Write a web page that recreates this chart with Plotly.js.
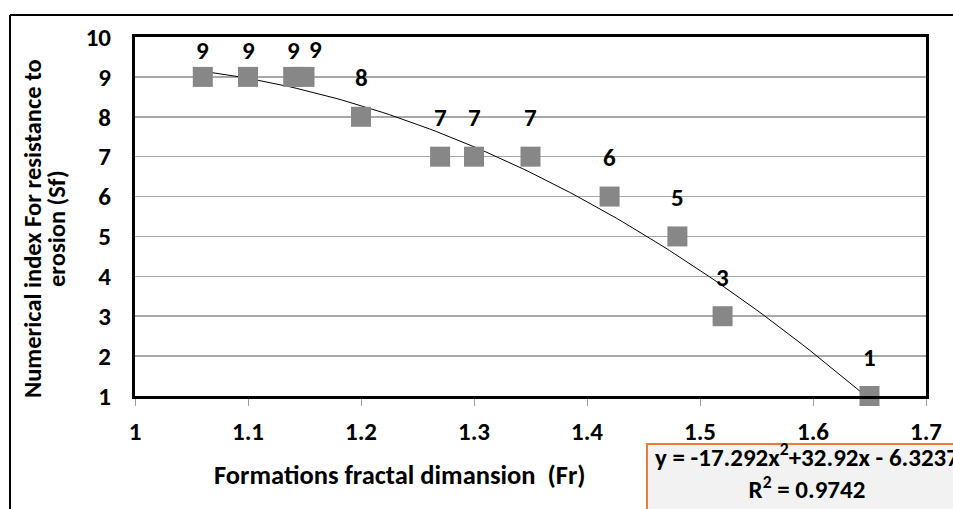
<!DOCTYPE html>
<html>
<head>
<meta charset="utf-8">
<script src="https://cdn.plot.ly/plotly-3.0.1.min.js"></script>
<style>
html,body{margin:0;padding:0;background:#fff;}
#chart{width:953px;height:509px;}
</style>
</head>
<body>
<div id="chart"></div>
<script>
// Data
const fractalDim = [1.06, 1.10, 1.14, 1.15, 1.20, 1.27, 1.30, 1.35, 1.42, 1.48, 1.52, 1.65];
const erosionIndex = [9, 9, 9, 9, 8, 7, 7, 7, 6, 5, 3, 1];
const pointLabels = ["9", "9", "9", "9", "8", "7", "7", "7", "6", "5", "3", "1"];
// Polynomial trendline coefficients shown in the chart (a2, a1, a0)
const trendCoef = [-17.292, 32.92, -6.3237];
const rSquared = "0.9742";
const xTicks = [1, 1.1, 1.2, 1.3, 1.4, 1.5, 1.6, 1.7];
const yTicks = [1, 2, 3, 4, 5, 6, 7, 8, 9, 10];

const FONT = "Carlito, Lato, 'Open Sans', sans-serif";

// trendline evaluated along the data range
const xMin = Math.min(...fractalDim), xMax = Math.max(...fractalDim);
const trendX = [], trendY = [];
for (let i = 0; i <= 100; i++) {
  const x = xMin + (xMax - xMin) * i / 100;
  trendX.push(x);
  trendY.push(trendCoef[0] * x * x + trendCoef[1] * x + trendCoef[2]);
}

const traces = [
  {
    x: trendX, y: trendY, type: "scatter", mode: "lines",
    line: {color: "#000", width: 1}, hoverinfo: "skip", showlegend: false, cliponaxis: false
  },
  {
    x: fractalDim, y: erosionIndex, type: "scatter", mode: "markers",
    marker: {symbol: "square", size: 20, color: "#878787"},
    showlegend: false, cliponaxis: false
  }
];

const W = 953, H = 509, L = 135, R = 27, T = 37, B = 113;
const pw = W - L - R, ph = H - T - B;
const px = p => (p - L) / pw;
const py = p => (H - B - p) / ph;
const yMax = 10, yMin = 1;
const unitPx = ph / (yMax - yMin);

const annotations = pointLabels.map((t, i) => {
  const overlapRight = i > 0 && Math.abs(fractalDim[i] - fractalDim[i - 1]) < 0.02;
  const distTop = (yMax - erosionIndex[i]) * unitPx;
  const shift = Math.min(39, distTop - 13);
  return {
    x: fractalDim[i], y: erosionIndex[i], xref: "x", yref: "y",
    text: t, showarrow: false, yshift: overlapRight ? shift + 1 : shift, xshift: overlapRight ? 11 : 0,
    font: {family: FONT, size: 25, color: "#000", weight: 700}
  };
});

const titleFont = {family: FONT, size: 24.5, color: "#000", weight: 700};
annotations.push({
  xref: "paper", yref: "paper", x: px(33), y: py(229), textangle: -90,
  text: "Numerical index For resistance to", showarrow: false,
  font: titleFont, xanchor: "center", yanchor: "middle"
});
annotations.push({
  xref: "paper", yref: "paper", x: px(57), y: py(229), textangle: -90,
  text: "erosion (Sf)", showarrow: false,
  font: titleFont, xanchor: "center", yanchor: "middle"
});
annotations.push({
  xref: "paper", yref: "paper", x: px(400), y: py(475),
  text: "Formations fractal dimansion\u00A0\u00A0(Fr)", showarrow: false,
  font: {family: FONT, size: 26.5, color: "#000", weight: 700}, xanchor: "center", yanchor: "middle"
});
annotations.push({
  xref: "paper", yref: "paper", x: px(807), y: py(471),
  text: "y = -17.292x<sup>2</sup>+32.92x - 6.3237<br>R<sup>2</sup> = " + rSquared, showarrow: false,
  font: {family: FONT, size: 25, color: "#000", weight: 700}, xanchor: "center", yanchor: "middle"
});

const shapes = [
  // outer chart frame (left and top edges visible)
  {type: "line", xref: "paper", yref: "paper", x0: px(10), x1: px(10), y0: py(15), y1: py(520), line: {color: "#000", width: 2}},
  {type: "line", xref: "paper", yref: "paper", x0: px(10), x1: px(960), y0: py(15), y1: py(15), line: {color: "#000", width: 2}},
  // trendline label box
  {type: "rect", xref: "paper", yref: "paper", x0: px(647), x1: px(965), y0: py(520), y1: py(444),
   fillcolor: "#f2f2f2", line: {color: "#ED7D31", width: 2}, layer: "below"}
];

const layout = {
  width: W, height: H,
  margin: {l: L, r: R, t: T, b: B},
  paper_bgcolor: "#fff", plot_bgcolor: "#fff",
  showlegend: false,
  xaxis: {
    range: [1, 1.7], tickvals: xTicks, ticktext: xTicks.map(String),
    showgrid: false, zeroline: false,
    showline: true, mirror: true, linecolor: "#000", linewidth: 3,
    ticks: "outside", ticklen: 7, tickwidth: 1, tickcolor: "#a0a0a0",
    ticklabelstandoff: 4,
    tickfont: {family: FONT, size: 25, color: "#000", weight: 700}
  },
  yaxis: {
    range: [yMin, yMax], tickvals: yTicks, ticktext: yTicks.map(String),
    showgrid: true, gridcolor: "#a8a8a8", gridwidth: 1.5, zeroline: false,
    showline: true, mirror: true, linecolor: "#000", linewidth: 3,
    ticks: "", ticklabelstandoff: 16,
    tickfont: {family: FONT, size: 25, color: "#000", weight: 700}
  },
  annotations: annotations,
  shapes: shapes
};

Plotly.newPlot("chart", traces, layout, {displayModeBar: false, staticPlot: true});
</script>
</body>
</html>
